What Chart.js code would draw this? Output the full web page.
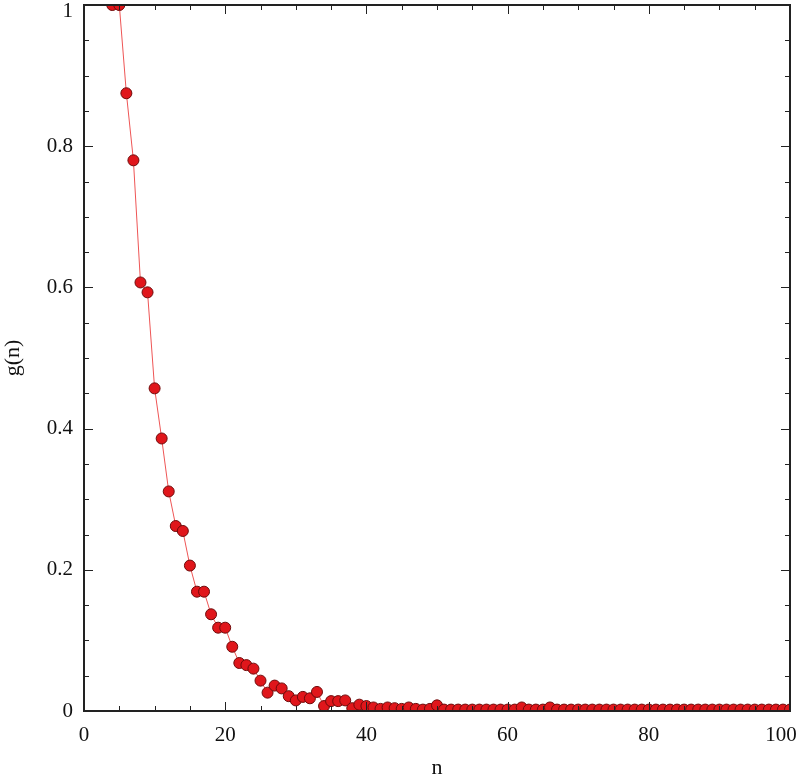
<!DOCTYPE html>
<html>
<head>
<meta charset="utf-8">
<script src="https://cdn.jsdelivr.net/npm/chart.js@4"></script>
<style>
  html, body { margin: 0; padding: 0; background: #fff; }
  #wrap { width: 800px; height: 781px; }
</style>
</head>
<body>
<div id="wrap"><canvas id="chart"></canvas></div>
<script>
// ---- data ----
const nValues = [
  4, 5, 6, 7, 8, 9, 10, 11, 12, 13, 14, 15, 16, 17, 18, 19, 20,
  21, 22, 23, 24, 25, 26, 27, 28, 29, 30, 31, 32, 33, 34, 35, 36, 37, 38, 39, 40,
  41, 42, 43, 44, 45, 46, 47, 48, 49, 50, 51, 52, 53, 54, 55, 56, 57, 58, 59, 60,
  61, 62, 63, 64, 65, 66, 67, 68, 69, 70, 71, 72, 73, 74, 75, 76, 77, 78, 79, 80,
  81, 82, 83, 84, 85, 86, 87, 88, 89, 90, 91, 92, 93, 94, 95, 96, 97, 98, 99, 100
];
const gValues = [
  1.0, 1.0, 0.875, 0.780, 0.607, 0.593, 0.457, 0.386, 0.311, 0.262, 0.255, 0.206, 0.169, 0.169, 0.137, 0.118, 0.118,
  0.091, 0.068, 0.065, 0.060, 0.043, 0.026, 0.036, 0.032, 0.021, 0.015, 0.020, 0.018, 0.027, 0.007, 0.014, 0.014, 0.015, 0.004, 0.009, 0.007,
  0.005, 0.003, 0.005, 0.004, 0.003, 0.005, 0.003, 0.002, 0.003, 0.008, 0.002, 0.002, 0.002, 0.002, 0.002, 0.002, 0.002, 0.002, 0.002, 0.002,
  0.002, 0.005, 0.002, 0.002, 0.002, 0.005, 0.002, 0.002, 0.002, 0.002, 0.002, 0.002, 0.002, 0.002, 0.002, 0.002, 0.002, 0.002, 0.002, 0.002,
  0.002, 0.002, 0.002, 0.002, 0.002, 0.002, 0.002, 0.002, 0.002, 0.002, 0.002, 0.002, 0.002, 0.002, 0.002, 0.002, 0.002, 0.002, 0.002, 0.002
];
const xMajorTicks = [0, 20, 40, 60, 80, 100];
const yMajorTicks = [0, 0.2, 0.4, 0.6, 0.8, 1];
const xMinorStep = 5;
const yMinorStep = 0.05;

const points = nValues.map((n, i) => ({ x: n, y: gValues[i] }));

const serif = "'Liberation Serif', 'DejaVu Serif', serif";

// box + inward ticks on all four sides
const frameTicks = {
  id: "frameTicks",
  beforeDraw(chart) {
    // nudge edge labels inward so they stay on the canvas
    const xi = chart.scales.x.getLabelItems();
    const yi = chart.scales.y.getLabelItems();
    const lastX = xi.find((it) => it.label === "100");
    if (lastX) lastX.options.translation[0] -= 9;
    const topY = yi.find((it) => it.label === "1");
    if (topY) topY.options.translation[1] += 6;
  },
  afterDraw(chart) {
    const { ctx, chartArea: a, scales } = chart;
    const xs = scales.x, ys = scales.y;
    ctx.save();
    ctx.strokeStyle = "#222";
    ctx.lineWidth = 1;
    ctx.beginPath();
    for (let v = 0; v <= 100 + 1e-9; v += xMinorStep) {
      const px = Math.round(xs.getPixelForValue(v)) + 0.5;
      const len = xMajorTicks.includes(v) ? 9 : 5;
      ctx.moveTo(px, a.bottom); ctx.lineTo(px, a.bottom - len);
      ctx.moveTo(px, a.top); ctx.lineTo(px, a.top + len);
    }
    for (let k = 0; k <= 20; k++) {
      const v = k * yMinorStep;
      const py = Math.round(ys.getPixelForValue(v)) + 0.5;
      const len = k % 4 === 0 ? 9 : 5;
      ctx.moveTo(a.left, py); ctx.lineTo(a.left + len, py);
      ctx.moveTo(a.right, py); ctx.lineTo(a.right - len, py);
    }
    ctx.stroke();
    ctx.lineWidth = 2;
    ctx.strokeStyle = "#222";
    ctx.strokeRect(a.left, a.top, a.right - a.left, a.bottom - a.top);
    ctx.restore();
  },
};

new Chart(document.getElementById("chart"), {
  type: "scatter",
  data: {
    datasets: [
      {
        label: "g(n)",
        data: points,
        showLine: true,
        clip: 0,
        borderColor: "#ee5555",
        borderWidth: 1,
        pointRadius: 5.5,
        pointHoverRadius: 5.5,
        pointBackgroundColor: "#e0161b",
        pointBorderColor: "#6e0a0a",
        pointBorderWidth: 1,
      },
    ],
  },
  options: {
    responsive: true,
    maintainAspectRatio: false,
    animation: false,
    layout: { autoPadding: false, padding: { top: 5, right: 10, left: 0, bottom: 0 } },
    plugins: { legend: { display: false }, tooltip: { enabled: false } },
    scales: {
      x: {
        type: "linear",
        min: 0,
        max: 100,
        afterFit: (s) => { s.height = 70; s.paddingLeft = 0; s.paddingRight = 0; },
        afterBuildTicks: (s) => { s.ticks = xMajorTicks.map((v) => ({ value: v })); },
        grid: { display: false, drawTicks: false },
        border: { display: false },
        ticks: { color: "#111", padding: 12, maxRotation: 0, font: { family: serif, size: 21 } },
        title: { display: true, text: "n", color: "#111", padding: { top: 6, bottom: 0 }, font: { family: serif, size: 22 } },
      },
      y: {
        type: "linear",
        min: 0,
        max: 1,
        afterFit: (s) => { s.width = 84; s.paddingTop = 0; s.paddingBottom = 0; },
        afterBuildTicks: (s) => { s.ticks = yMajorTicks.map((v) => ({ value: v })); },
        grid: { display: false, drawTicks: false },
        border: { display: false },
        ticks: { color: "#111", padding: 11, font: { family: serif, size: 21 }, callback: (v) => String(v) },
        title: { display: true, text: "g(n)", color: "#111", padding: { top: 0, bottom: 0 }, font: { family: serif, size: 22 } },
      },
    },
  },
  plugins: [frameTicks],
});
</script>
</body>
</html>
